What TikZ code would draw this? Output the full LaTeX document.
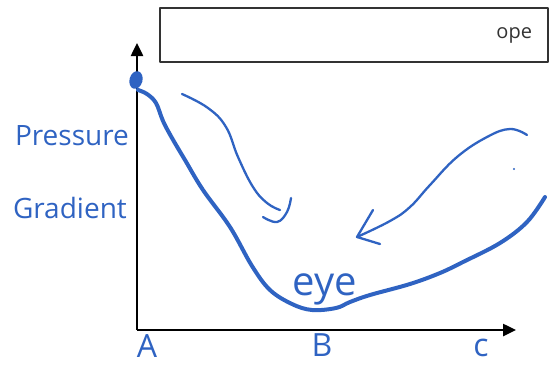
\documentclass[tikz,border=0pt]{standalone}
\usepackage{fontspec}
\setmainfont{Open Sans}
\usetikzlibrary{arrows.meta}
\definecolor{sketchInk}{HTML}{2F63C2}
\definecolor{sketchGray}{HTML}{333333}
\tikzset{
  sketch diagram/.style={
    x=1pt, y=-1pt, line cap=round, line join=round,
    every node/.style={inner sep=0pt, outer sep=0pt}
  },
  sketch axis/.style={draw=black, line width=2.5pt, line cap=butt,
    -{Triangle[length=13pt,width=12pt]}},
  sketch curve/.style={draw=sketchInk, line width=4pt},
  sketch pen/.style={draw=sketchInk, line width=2.3pt},
  sketch text/.style={text=sketchInk, font=\fontsize{28}{32}\selectfont},
  sketch letter/.style={text=sketchInk, font=\fontsize{32}{36}\selectfont},
  title box/.style={draw=sketchGray, line width=1.5pt,
    minimum width=388pt, minimum height=54pt}
}

\begin{document}
\begin{tikzpicture}[sketch diagram]
    \useasboundingbox (0,0) rectangle (549,365);
    % header box
    \node[title box] (title) at (354,35) {};
    \node[anchor=east, text=sketchGray, font=\fontsize{20}{24}\selectfont]
      (tag) at ([xshift=-16pt]title.east) {ope};
    % axes
    \coordinate (origin) at (137,330);
    \coordinate (ytip) at (137,43);
    \coordinate (xtip) at (516,330);
    \draw[sketch axis] (origin) -- (ytip);
    \draw[sketch axis] (origin) -- (xtip);
    \node[sketch letter, anchor=base] (labA) at (147,357) {A};
    \node[sketch letter, anchor=base] (labB) at (322,356) {B};
    \node[sketch letter, anchor=base] (labC) at (481,356) {c};
    \node[sketch text, anchor=base west] (pressure) at (15,145) {Pressure};
    \node[sketch text, anchor=base west] (gradient) at (13,218) {Gradient};
    % pressure curve
    \fill[sketchInk, rotate around={-15:(136,80)}]
      (136,80) ellipse[x radius=6.5pt, y radius=9pt];
    \draw[sketch curve] plot[smooth, tension=0.6] coordinates {
      (138,90) (147,94) (156,103) (163,121) (172,138) (185,160)
      (203,190) (230,227) (252,266) (270,290) (292,304) (312,310)
      (336,308) (350,302) (370,295) (410,284) (440,273) (463,262)
      (500,243) (527,222) (545,197)};
    \node[text=sketchInk, font=\fontsize{40}{44}\selectfont, anchor=base]
      (eye) at (325,295) {eye};
    % flow strokes
    \draw[sketch pen] plot[smooth, tension=0.7] coordinates {
      (182,94) (208,108) (226,127) (238,157) (253,187) (267,203) (280,210)};
    \draw[sketch pen] plot[smooth, tension=0.7] coordinates {
      (263,217) (277,222) (287,212) (291,198)};
    \draw[sketch pen] plot[smooth, tension=0.7] coordinates {
      (527,135) (510,129) (487,137) (457,157) (430,185) (410,207)
      (390,221) (357,237)};
    \draw[sketch pen] (373,210) -- (357,237) -- (380,244);
    \fill[sketchInk] (514,169) circle[radius=1.2pt];
\end{tikzpicture}
\end{document}
